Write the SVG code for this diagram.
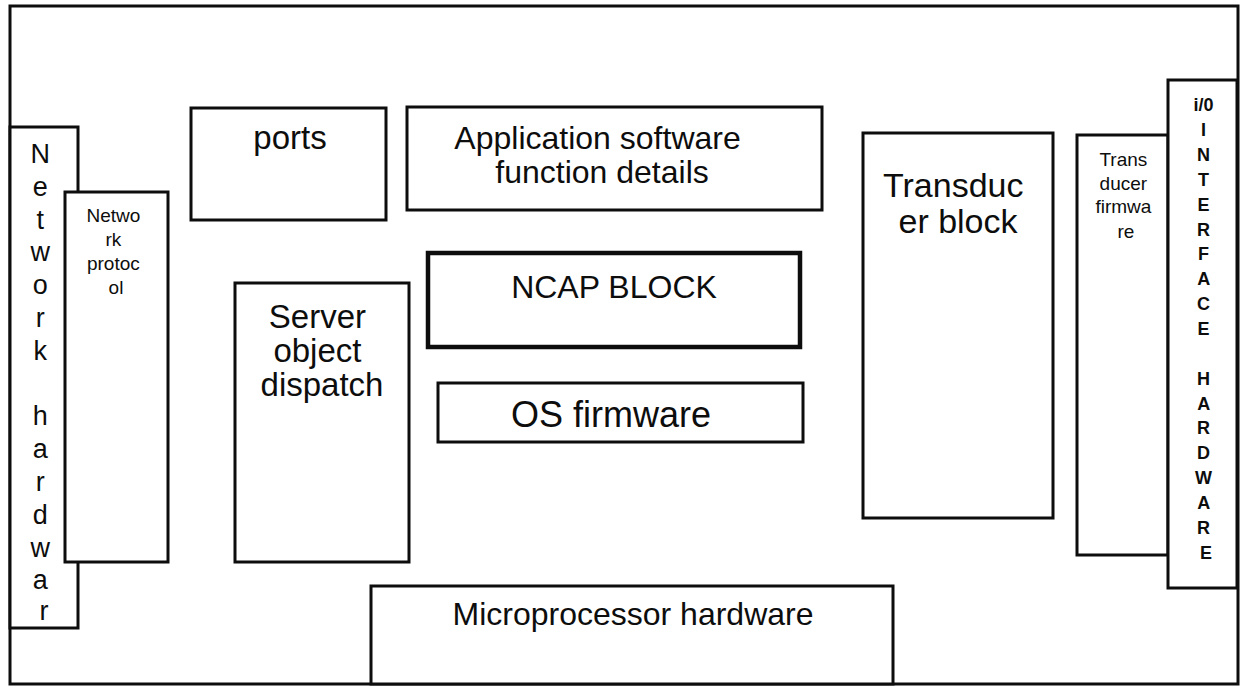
<svg xmlns="http://www.w3.org/2000/svg" width="1245" height="690" viewBox="0 0 1245 690">
  <style>
    .box { fill: #ffffff; stroke: #0d0d0d; stroke-width: 3; }
    .heavy { stroke-width: 4.5; }
    text { font-family: "Liberation Sans", Arial, sans-serif; fill: #0d0d0d; text-anchor: middle; }
    .big { font-size: 32px; }
    .vert { font-size: 27px; }
    .small { font-size: 19px; }
    .vbold { font-size: 18px; font-weight: bold; }
  </style>
  <rect x="0" y="0" width="1245" height="690" fill="#ffffff"/>

  <!-- enclosing frame -->
  <g id="frame">
    <rect class="box" x="10" y="6" width="1228" height="678" fill="none"/>
  </g>

  <g id="network-hardware">
    <rect class="box" x="10" y="127" width="68" height="501"/>
    <text class="vert">
      <tspan x="44" y="163">N</tspan>
      <tspan x="44" y="195.8">e</tspan>
      <tspan x="44" y="228.6">t</tspan>
      <tspan x="44" y="261.4">w</tspan>
      <tspan x="44" y="294.2">o</tspan>
      <tspan x="44" y="327">r</tspan>
      <tspan x="44" y="359.8">k</tspan>
      <tspan x="44" y="425.4">h</tspan>
      <tspan x="44" y="458.2">a</tspan>
      <tspan x="44" y="491">r</tspan>
      <tspan x="44" y="523.8">d</tspan>
      <tspan x="44" y="556.6">w</tspan>
      <tspan x="44" y="589.4">a</tspan>
      <tspan x="44" y="620">r</tspan>
    </text>
  </g>

  <g id="network-protocol">
    <rect class="box" x="65" y="192" width="103" height="370"/>
    <text class="small">
      <tspan x="116" y="222">Netwo</tspan>
      <tspan x="116" y="246">rk</tspan>
      <tspan x="116" y="270">protoc</tspan>
      <tspan x="116" y="294">ol</tspan>
    </text>
  </g>

  <g id="ports">
    <rect class="box" x="191" y="108" width="195" height="112"/>
    <text class="big" x="290" y="149" style="font-size:33px">ports</text>
  </g>

  <g id="application-software">
    <rect class="box" x="407" y="107" width="415" height="103"/>
    <text class="big">
      <tspan x="602" y="149">Application software</tspan>
      <tspan x="602" y="183">function details</tspan>
    </text>
  </g>

  <g id="ncap-block">
    <rect class="box heavy" x="428" y="253" width="372" height="94"/>
    <text class="big" x="614" y="298">NCAP BLOCK</text>
  </g>

  <g id="server-object-dispatch">
    <rect class="box" x="235" y="283" width="174" height="279"/>
    <text class="big" style="font-size:33px">
      <tspan x="322" y="328">Server</tspan>
      <tspan x="322" y="362">object</tspan>
      <tspan x="322" y="396">dispatch</tspan>
    </text>
  </g>

  <g id="os-firmware">
    <rect class="box" x="438" y="383" width="365" height="59"/>
    <text class="big" x="611" y="427" style="font-size:36px">OS firmware</text>
  </g>

  <g id="transducer-block">
    <rect class="box" x="863" y="133" width="190" height="385"/>
    <text class="big" style="font-size:34px">
      <tspan x="958" y="197">Transduc</tspan>
      <tspan x="958" y="233">er block</tspan>
    </text>
  </g>

  <g id="transducer-firmware">
    <rect class="box" x="1077" y="135" width="91" height="420"/>
    <text class="small">
      <tspan x="1126" y="166">Trans</tspan>
      <tspan x="1126" y="190">ducer</tspan>
      <tspan x="1126" y="213">firmwa</tspan>
      <tspan x="1126" y="238">re</tspan>
    </text>
  </g>

  <g id="io-interface-hardware">
    <rect class="box" x="1168" y="80" width="69" height="508"/>
    <text class="vbold">
      <tspan x="1206" y="111">i/0</tspan>
      <tspan x="1206" y="136">I</tspan>
      <tspan x="1206" y="161">N</tspan>
      <tspan x="1206" y="186">T</tspan>
      <tspan x="1206" y="211">E</tspan>
      <tspan x="1206" y="236">R</tspan>
      <tspan x="1206" y="260">F</tspan>
      <tspan x="1206" y="285">A</tspan>
      <tspan x="1206" y="310">C</tspan>
      <tspan x="1206" y="335">E</tspan>
      <tspan x="1206" y="385">H</tspan>
      <tspan x="1206" y="410">A</tspan>
      <tspan x="1206" y="434">R</tspan>
      <tspan x="1206" y="459">D</tspan>
      <tspan x="1206" y="484">W</tspan>
      <tspan x="1206" y="509">A</tspan>
      <tspan x="1206" y="534">R</tspan>
      <tspan x="1206" y="559">E</tspan>
    </text>
  </g>

  <g id="microprocessor-hardware">
    <rect class="box" x="371" y="586" width="522" height="98"/>
    <text class="big" x="633" y="625">Microprocessor hardware</text>
  </g>

  <!-- no connectors in this block diagram -->
  <g id="connectors"/>
</svg>
